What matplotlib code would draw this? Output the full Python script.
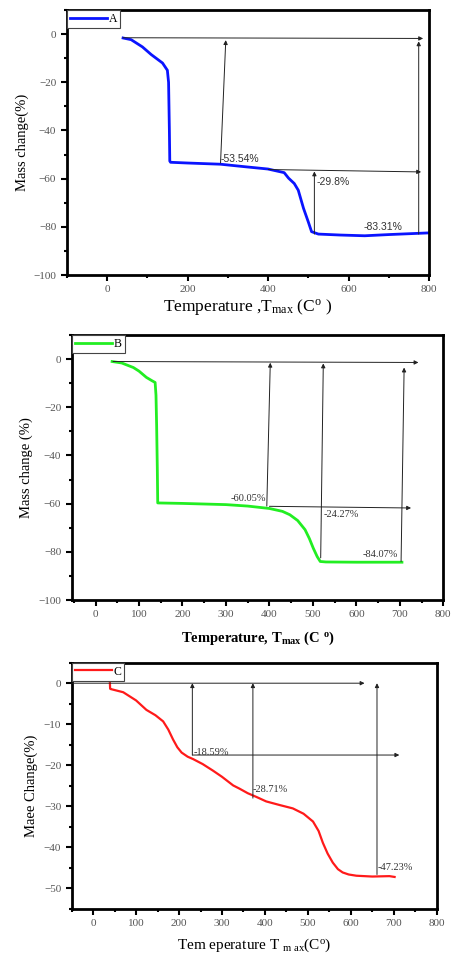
import matplotlib.pyplot as plt
from matplotlib.ticker import MultipleLocator

plt.rcParams['font.family'] = ['Liberation Serif', 'DejaVu Serif']
plt.rcParams['mathtext.fontset'] = 'custom'
plt.rcParams['mathtext.rm'] = 'Liberation Serif'
plt.rcParams['mathtext.it'] = 'Liberation Serif:italic'
plt.rcParams['mathtext.bf'] = 'Liberation Serif:bold'

# --- panel A (blue) ---
a_temp = [40, 60, 88, 110, 138, 150, 153, 155, 156, 158, 200, 282, 340, 400, 440, 451,
          465, 475, 488, 500, 508, 525, 580, 640, 700, 800]
a_mass = [-1.6, -2.3, -5.3, -8.5, -12, -15, -20, -40, -52.7, -53.2, -53.5, -54, -55, -56,
          -57.5, -59.8, -62, -64.8, -72.3, -78, -82, -83, -83.4, -83.7, -83.2, -82.5]
# arrows: (x_from, y_from, x_to, y_to)
a_arrows = [(40, -1.5, 785, -1.8), (282, -53.5, 295, -2.5), (400, -56.2, 780, -57.2),
            (515, -83, 515, -57), (774, -83, 774, -3)]
a_labels = [(-53.54, 282, -52), (-29.8, 520, -61.3), (-83.31, 686, -80)]

# --- panel B (green) ---
b_temp = [38, 60, 87, 100, 117, 130, 137, 139, 140.5, 142, 143, 200, 300, 350, 400, 430,
          447, 465, 482, 492, 501, 510, 517, 530, 600, 705]
b_mass = [-1, -1.6, -3.5, -5, -7.6, -9, -9.7, -15, -27.8, -45, -59.7, -59.9, -60.4, -61,
          -62, -63.2, -64.6, -67, -70.8, -74.5, -78.5, -82, -84, -84.2, -84.3, -84.3]
b_arrows = [(40, -1, 743, -1.4), (394, -61, 402, -1.5), (518, -82.5, 524, -1.8),
            (703, -84, 710, -3.5), (400, -61.1, 726, -61.8)]
b_labels = [(-60.05, 352, -58, 'center'), (-24.27, 524, -64.3, 'left'),
            (-84.07, 655, -81, 'center')]

# --- panel C (red) ---
c_temp = [39, 39.5, 40, 70, 100, 124, 145, 163, 175, 186, 196, 206, 220, 233, 255, 279,
          300, 326, 341, 360, 380, 403, 435, 465, 490, 512, 525, 535, 546, 558, 570, 581,
          595, 613, 650, 690, 702]
c_mass = [0, -1.3, -1.4, -2.2, -4.2, -6.5, -7.8, -9.3, -11.3, -13.7, -15.6, -16.9, -17.9,
          -18.5, -19.7, -21.3, -22.8, -24.9, -25.7, -26.8, -27.7, -28.8, -29.7, -30.5,
          -31.8, -33.7, -36, -38.9, -41.5, -43.7, -45.3, -46.1, -46.6, -46.9, -47.1,
          -47.0, -47.2]
c_arrows = [(-50, 0, 632, 0), (231, -17.5, 231, 0), (372, -28, 372, 0),
            (661, -46.6, 661, 0), (231, -17.5, 713, -17.5)]
c_labels = [(-18.59, 233, -17), (-28.71, 372, -26), (-47.23, 662, -44.8)]

fig = plt.figure(figsize=(4.52, 9.55), dpi=100)

tick_col = '#555555'
arrow_kw = dict(arrowstyle='-|>', lw=0.7, color='#222222', mutation_scale=6,
                shrinkA=0, shrinkB=0)


def style_axes(ax):
    for s in ax.spines.values():
        s.set_linewidth(2)
        s.set_color('k')
    ax.tick_params(which='both', direction='out', colors='k', labelcolor=tick_col,
                   labelsize=8, width=1.5, top=False, right=False)
    ax.tick_params(which='major', length=4)
    ax.tick_params(which='minor', length=2.5)


def draw_arrows(ax, arrows):
    for x0, y0, x1, y1 in arrows:
        ax.annotate('', xy=(x1, y1), xytext=(x0, y0), arrowprops=arrow_kw)


# panel A
ax1 = fig.add_axes([0.1475, 0.712, 0.802, 0.2775])
ax1.plot(a_temp, a_mass, color='#0a14ff', lw=2, label='A')
draw_arrows(ax1, a_arrows)
for v, x, y in a_labels:
    ha = 'center' if v == -83.31 else 'left'
    ax1.text(x, y, f'{v}%', fontsize=7.5, family=['Liberation Sans'], color='#333333',
             ha=ha, va='center')
ax1.set_xlim(-100, 800)
ax1.set_ylim(-100, 10)
ax1.xaxis.set_major_locator(MultipleLocator(200))
ax1.xaxis.set_minor_locator(MultipleLocator(100))
ax1.yaxis.set_major_locator(MultipleLocator(20))
ax1.yaxis.set_minor_locator(MultipleLocator(10))
ax1.set_xlabel('Temperature ,T$_{\\rm max}$ (C$^{\\rm o}$ )', fontsize=12.5, labelpad=2)
ax1.set_ylabel('Mass change(%)', fontsize=10.5, labelpad=3)
style_axes(ax1)

# panel B
ax2 = fig.add_axes([0.1586, 0.3717, 0.822, 0.2775])
ax2.plot(b_temp, b_mass, color='#22ee22', lw=2, label='B')
draw_arrows(ax2, b_arrows)
for v, x, y, ha in b_labels:
    ax2.text(x, y, f'{v}%', fontsize=7.5, color='#333333', ha=ha, va='center')
ax2.set_xlim(-55, 800)
ax2.set_ylim(-100, 10)
ax2.xaxis.set_major_locator(MultipleLocator(100))
ax2.xaxis.set_minor_locator(MultipleLocator(50))
ax2.yaxis.set_major_locator(MultipleLocator(20))
ax2.yaxis.set_minor_locator(MultipleLocator(10))
ax2.set_xlabel('Temperature, T$_{\\bf max}$ (C $^{\\bf o}$)', fontsize=10.5,
               fontweight='bold', labelpad=7)
ax2.set_ylabel('Mass change (%)', fontsize=10.5, labelpad=4)
style_axes(ax2)

# panel C
ax3 = fig.add_axes([0.1586, 0.0482, 0.8075, 0.2579])
ax3.plot(c_temp, c_mass, color='#ff1a1a', lw=1.6, label='C')
draw_arrows(ax3, c_arrows)
for v, x, y in c_labels:
    ax3.text(x, y, f'{v}%', fontsize=7.5, color='#333333', ha='left', va='center')
ax3.set_xlim(-50, 800)
ax3.set_ylim(-55, 5)
ax3.xaxis.set_major_locator(MultipleLocator(100))
ax3.xaxis.set_minor_locator(MultipleLocator(50))
ax3.yaxis.set_major_locator(MultipleLocator(10))
ax3.yaxis.set_minor_locator(MultipleLocator(5))
ax3.set_xlabel('Tem eperature T $_{\\rm m\\ ax}$(C$^{\\rm o}$)', fontsize=11, labelpad=6)
ax3.set_ylabel('Maee Change(%)', fontsize=10.5, labelpad=4)
style_axes(ax3)

for ax in (ax1, ax2, ax3):
    leg = ax.legend(loc='upper left', fontsize=8.5, handlelength=3.2, borderaxespad=0,
                    fancybox=False, framealpha=1, borderpad=0.25, handletextpad=0.1)
    leg.get_frame().set_edgecolor('#444444')
    leg.get_frame().set_linewidth(0.8)

fig.savefig('out.png', dpi=100)
